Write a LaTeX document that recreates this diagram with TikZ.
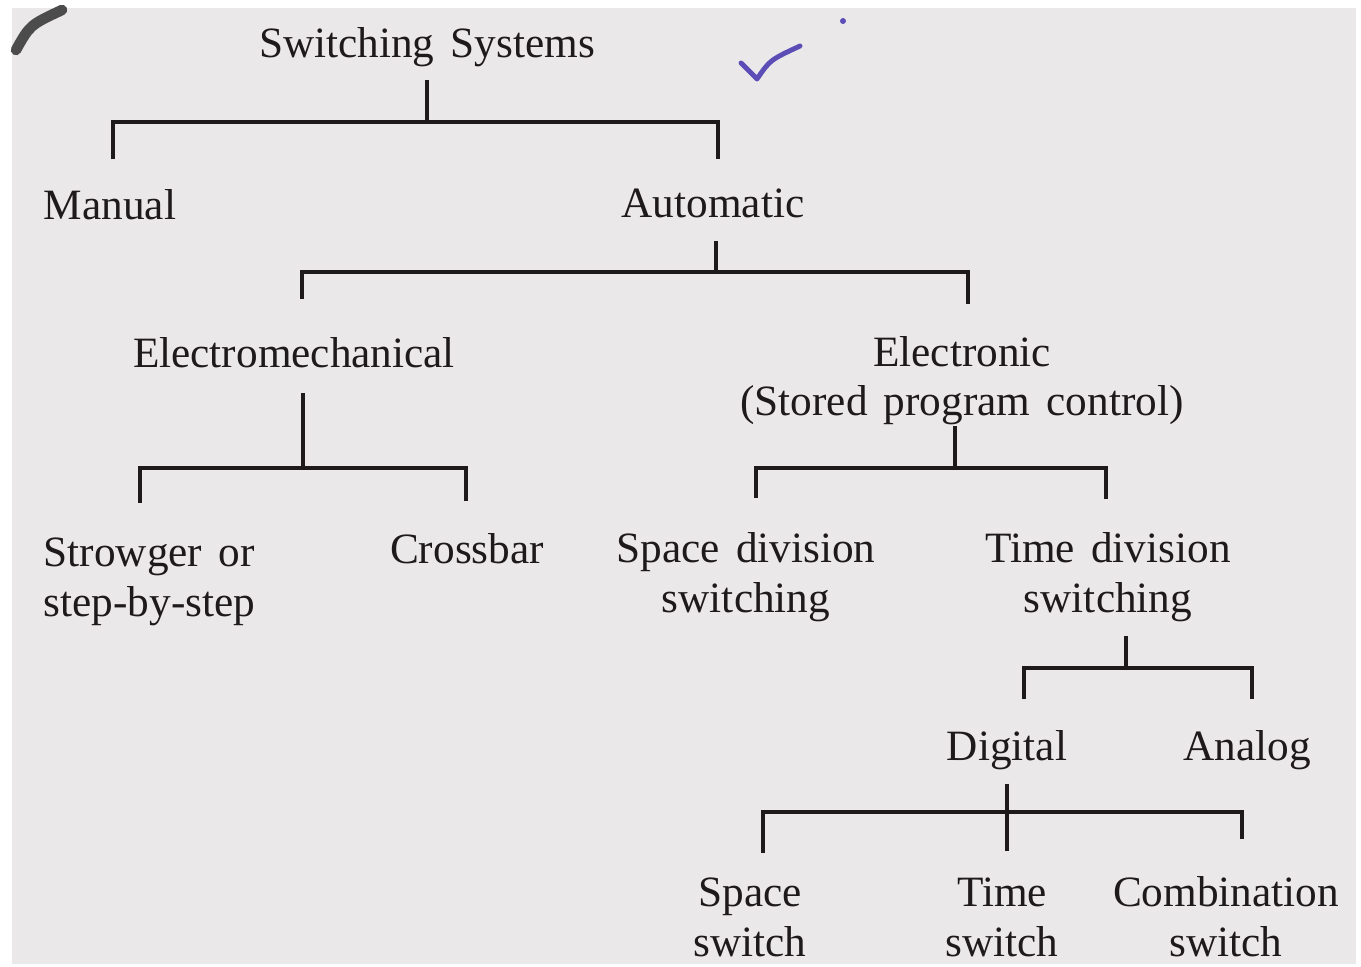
\documentclass[tikz,border=0pt]{standalone}
\usepackage{fontspec}
\setmainfont{Liberation Serif}[WordSpace=1.5]
\definecolor{paper}{HTML}{EBE8EA}
\definecolor{ink}{HTML}{1E1A1C}
\definecolor{pen}{HTML}{5B4DB5}
\tikzset{
  lbl/.style={inner sep=0pt, text=ink, font=\fontsize{12.3}{14.2}\selectfont},
  tree/.style={draw=ink, line width=1.1pt},
}
\begin{document}
\begin{tikzpicture}[x=0.01cm, y=-0.01cm]
  \useasboundingbox (0,0) rectangle (1361,967);
  \fill[white] (0,0) rectangle (1361,967);
  \fill[paper] (12,8) rectangle (1356,964);

  % Marks on the page
  \draw[gray!60!black, line width=3pt, line cap=round] (16,50) .. controls (30,25) .. (62,10);
  \draw[pen, line width=1.4pt, line cap=round, line join=round] (741,63) -- (757,79) .. controls (770,60) .. (800,46);
  \fill[pen] (843,21) circle (3);

  % Nodes (two-line nodes sit on the baseline of their last line)
  \node[lbl, anchor=base] (sys) at (427,58) {Switching Systems};
  \node[lbl, anchor=base] (man) at (110,220) {Manual};
  \node[lbl, anchor=base] (auto) at (713,218) {Automatic};
  \node[lbl, anchor=base] (emech) at (294,368) {Electromechanical};
  \node[lbl, anchor=base, align=center] (etron) at (962,416) {Electronic\\(Stored program control)};
  \node[lbl, anchor=base west, align=left] (strow) at (43,616) {Strowger or\\step-by-step};
  \node[lbl, anchor=base] (cross) at (467,563) {Crossbar};
  \node[lbl, anchor=base, align=center] (sdiv) at (746,612) {Space division\\switching};
  \node[lbl, anchor=base, align=center] (tdiv) at (1108,612) {Time division\\switching};
  \node[lbl, anchor=base] (dig) at (1007,760) {Digital};
  \node[lbl, anchor=base] (ana) at (1247,760) {Analog};
  \node[lbl, anchor=base, align=center] (ssw) at (750,956) {Space\\switch};
  \node[lbl, anchor=base, align=center] (tsw) at (1002,956) {Time\\switch};
  \node[lbl, anchor=base, align=center] (csw) at (1226,956) {Combination\\switch};

  % Junctions and bar ends
  \coordinate (sysJ) at (427,122);
  \coordinate (sysL) at (113,122);
  \coordinate (sysR) at (718,122);
  \coordinate (autoJ) at (716,272);
  \coordinate (autoL) at (302,272);
  \coordinate (autoR) at (968,272);
  \coordinate (emJ) at (303,468);
  \coordinate (emL) at (140,468);
  \coordinate (emR) at (466,468);
  \coordinate (etJ) at (955,468);
  \coordinate (etL) at (756,468);
  \coordinate (etR) at (1106,468);
  \coordinate (tdJ) at (1126,668);
  \coordinate (tdL) at (1024,668);
  \coordinate (tdR) at (1252,668);
  \coordinate (dgJ) at (1007,812);
  \coordinate (dgL) at (763,812);
  \coordinate (dgR) at (1242,812);

  % Tree
  \draw[tree, shorten <=1.2mm] (sys.south -| sysJ) -- (sysJ);
  \draw[tree, shorten <=3mm, shorten >=3mm] (man.north -| sysL) |- (sysJ) -| (auto.north -| sysR);
  \draw[tree, shorten <=2.2mm] (auto.south -| autoJ) -- (autoJ);
  \draw[tree, shorten <=3.8mm, shorten >=3.1mm] (emech.north -| autoL) |- (autoJ) -| (etron.north -| autoR);
  \draw[tree, shorten <=2.4mm] (emech.south -| emJ) -- (emJ);
  \draw[tree, shorten <=3.4mm, shorten >=3.1mm] (strow.north -| emL) |- (emJ) -| (cross.north -| emR);
  \draw[tree] (etron.south -| etJ) -- (etJ);
  \draw[tree, shorten <=3.3mm, shorten >=3.2mm] (sdiv.north -| etL) |- (etJ) -| (tdiv.north -| etR);
  \draw[tree, shorten <=1.35mm] (tdiv.south -| tdJ) -- (tdJ);
  \draw[tree, shorten <=3mm, shorten >=3mm] (dig.north -| tdL) |- (tdJ) -| (ana.north -| tdR);
  \draw[tree, shorten <=1.35mm, shorten >=2.6mm] (dig.south -| dgJ) -- (tsw.north -| dgJ);
  \draw[tree, shorten <=2.4mm, shorten >=3.6mm] (ssw.north -| dgL) |- (dgJ) -| (csw.north -| dgR);
\end{tikzpicture}
\end{document}
